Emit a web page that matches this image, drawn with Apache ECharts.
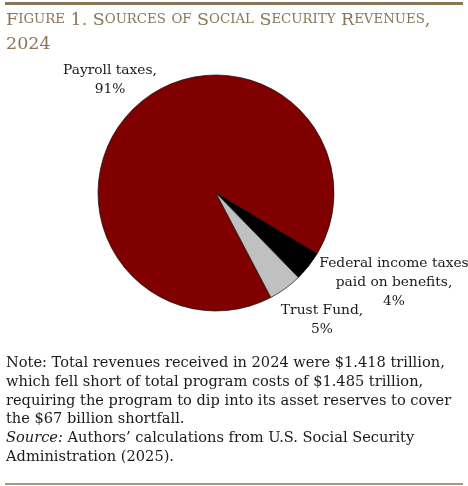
<!DOCTYPE html>
<html>
<head>
<meta charset="utf-8">
<script src="https://cdn.jsdelivr.net/npm/echarts@6/dist/echarts.min.js"></script>
<style>
  html, body { margin: 0; padding: 0; background: #fff; }
  #root { width: 468px; height: 486px; }
</style>
</head>
<body>
<div id="root"></div>
<script>
// data (shares of 2024 revenue, %)
var categories = ['Payroll taxes', 'Federal income taxes paid on benefits', 'Trust Fund'];
var shares = [91.3, 4.1, 4.6];
var labelNames = ['Payroll taxes,', 'Federal income taxes\npaid on benefits,', 'Trust Fund,'];
var sliceColors = ['#800000', '#000000', '#c0c0c0'];

var titleText = 'Figure 1. Sources of Social Security Revenues,\n2024';
var noteLines = [
  'Note: Total revenues received in 2024 were $1.418 trillion,',
  'which fell short of total program costs of $1.485 trillion,',
  'requiring the program to dip into its asset reserves to cover',
  'the $67 billion shortfall.'
];
var sourceLines = [
  'Authors\u2019 calculations from U.S. Social Security',
  'Administration (2025).'
];

// label anchor points (layout only)
var labelPos = [[110, 80], [394, 282], [322, 320]];

var serif = '"DejaVu Serif", "Liberation Serif", serif';
var tan = '#8a7656';
var ink = '#1a1a1a';

// fake small caps with rich text
var smallCaps = function (str) {
  return str.split('\n').map(function (line) {
    var out = '';
    var run = '';
    var kind = null;
    var flush = function () {
      if (run) out += '{' + kind + '|' + run + '}';
      run = '';
    };
    for (var i = 0; i < line.length; i++) {
      var ch = line[i];
      var k = (ch !== ch.toUpperCase()) ? 'sm' : 'big';
      if (k !== kind) { flush(); kind = k; }
      run += ch.toUpperCase();
    }
    flush();
    return out;
  }).join('\n');
};

var chart = echarts.init(document.getElementById('root'), null, { renderer: 'canvas' });

var option = {
  animation: false,
  title: [
    {
      left: 6,
      top: 8,
      padding: 0,
      text: smallCaps(titleText),
      textStyle: {
        fontFamily: serif,
        color: tan,
        fontWeight: 'normal',
        lineHeight: 24,
        rich: {
          big: { fontFamily: serif, fontSize: 17.5, color: tan, lineHeight: 24 },
          sm: { fontFamily: serif, fontSize: 13.3, color: tan, lineHeight: 24 }
        }
      }
    },
    {
      left: 6,
      top: 354,
      padding: 0,
      text: noteLines.join('\n') + '\n{it|Source:} ' + sourceLines.join('\n'),
      textStyle: {
        fontFamily: serif,
        fontSize: 14.6,
        fontWeight: 'normal',
        color: ink,
        lineHeight: 18.7,
        rich: {
          it: { fontFamily: serif, fontSize: 14.6, fontStyle: 'italic', color: ink, lineHeight: 18.7 }
        }
      }
    }
  ],
  graphic: [
    { type: 'rect', shape: { x: 5, y: 2, width: 458, height: 3 }, style: { fill: tan } },
    { type: 'rect', shape: { x: 5, y: 483.3, width: 458, height: 1.4 }, style: { fill: tan } }
  ],
  series: [
    {
      type: 'pie',
      center: [216, 193],
      radius: 118,
      startAngle: 297.7,
      clockwise: true,
      itemStyle: { borderColor: '#111', borderWidth: 0.7 },
      label: {
        show: true,
        position: 'inside',
        fontFamily: serif,
        fontSize: 13.8,
        color: ink,
        lineHeight: 19,
        align: 'center',
        formatter: function (p) {
          return labelNames[p.dataIndex] + '\n' + Math.round(p.percent) + '%';
        }
      },
      labelLine: { show: false },
      labelLayout: function (p) {
        var pos = labelPos[p.dataIndex];
        return { x: pos[0], y: pos[1], align: 'center', verticalAlign: 'middle' };
      },
      emphasis: { disabled: true },
      data: categories.map(function (c, i) {
        return { name: c, value: shares[i], itemStyle: { color: sliceColors[i] } };
      })
    }
  ]
};

chart.setOption(option);
</script>
</body>
</html>
